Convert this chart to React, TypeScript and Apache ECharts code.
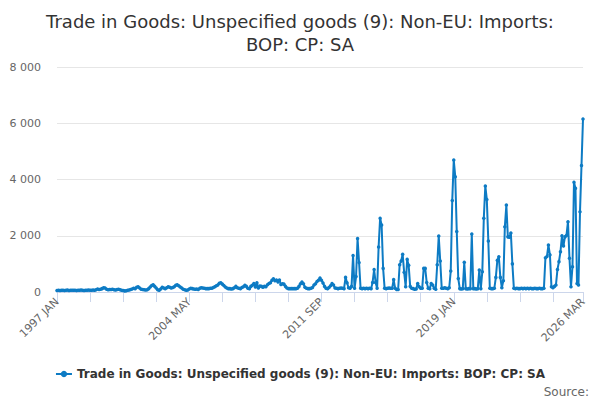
import React, { useEffect, useRef } from 'react';
import * as echarts from 'echarts';

const COLORS = {
  LINE: '#0d7bc4',
  TEXT: '#333333',
  LABEL: '#666666',
  SPLIT: '#e6e6e6',
  AXIS: '#ccd6eb',
};

const TITLE = 'Trade in Goods: Unspecified goods (9): Non-EU: Imports:\nBOP: CP: SA';
const SERIES_NAME = 'Trade in Goods: Unspecified goods (9): Non-EU: Imports: BOP: CP: SA';

const MONTHS = ['JAN', 'FEB', 'MAR', 'APR', 'MAY', 'JUN', 'JUL', 'AUG', 'SEP', 'OCT', 'NOV', 'DEC'];
const FIRST_YEAR = 1997;

// monthly values, one array per year
const y1997 = [55, 60, 50, 65, 60, 55, 60, 70, 55, 60, 65, 60];
const y1998 = [60, 55, 65, 60, 70, 60, 55, 65, 60, 70, 65, 60];
const y1999 = [70, 60, 80, 110, 90, 100, 120, 150, 140, 100, 80, 90];
const y2000 = [90, 100, 80, 70, 90, 100, 80, 60, 50, 40, 45, 60];
const y2001 = [70, 90, 110, 130, 120, 170, 190, 140, 100, 90, 80, 70];
const y2002 = [80, 120, 180, 230, 260, 200, 140, 80, 60, 110, 170, 140];
const y2003 = [120, 150, 190, 170, 140, 160, 190, 240, 260, 220, 180, 140];
const y2004 = [100, 80, 60, 70, 110, 130, 120, 110, 100, 110, 90, 130];
const y2005 = [150, 140, 130, 120, 120, 120, 130, 130, 160, 190, 220, 250];
const y2006 = [310, 330, 280, 230, 180, 140, 120, 120, 110, 120, 150, 200];
const y2007 = [150, 130, 120, 160, 190, 240, 200, 130, 120, 200, 240, 300];
const y2008 = [180, 330, 140, 210, 200, 170, 200, 190, 260, 300, 330, 415];
const y2009 = [474, 400, 430, 360, 430, 270, 290, 280, 200, 140, 120, 120];
const y2010 = [120, 120, 120, 120, 130, 200, 290, 356, 290, 170, 130, 120];
const y2011 = [120, 130, 160, 250, 290, 370, 420, 500, 420, 320, 200, 130];
const y2012 = [120, 160, 220, 300, 250, 140, 130, 120, 130, 140, 130, 120];
const y2013 = [520, 330, 150, 130, 200, 1300, 130, 550, 1900, 1050, 130, 120];
const y2014 = [130, 120, 130, 120, 130, 120, 340, 800, 340, 130, 1600, 2620];
const y2015 = [2380, 840, 130, 120, 130, 140, 130, 130, 440, 130, 90, 90];
const y2016 = [970, 1100, 1340, 700, 190, 1160, 950, 200, 130, 120, 100, 110];
const y2017 = [300, 190, 130, 130, 840, 840, 340, 130, 120, 300, 250, 130];
const y2018 = [100, 970, 1990, 1100, 130, 130, 150, 130, 120, 150, 750, 3250];
const y2019 = [4690, 4100, 2150, 480, 120, 110, 120, 1060, 120, 110, 120, 120];
const y2020 = [2060, 120, 120, 110, 120, 780, 120, 720, 2620, 3770, 3290, 1810];
const y2021 = [130, 120, 120, 130, 520, 1130, 1250, 520, 150, 400, 2320, 3090];
const y2022 = [1960, 1950, 2100, 1000, 130, 120, 130, 120, 120, 130, 120, 130];
const y2023 = [120, 130, 120, 130, 120, 120, 130, 120, 120, 130, 120, 120];
const y2024 = [130, 1220, 1260, 1670, 1320, 190, 150, 200, 250, 800, 1080, 1430];
const y2025 = [2000, 1640, 1960, 2010, 2500, 1200, 190, 900, 3900, 3690, 300, 250];
const y2026 = [2850, 4500, 6150];

const YEARS = [
  y1997, y1998, y1999, y2000, y2001, y2002, y2003, y2004, y2005, y2006,
  y2007, y2008, y2009, y2010, y2011, y2012, y2013, y2014, y2015, y2016,
  y2017, y2018, y2019, y2020, y2021, y2022, y2023, y2024, y2025, y2026,
];

const values: number[] = [];
const categories: string[] = [];
YEARS.forEach((arr, yi) => {
  arr.forEach((v, mi) => {
    values.push(v);
    categories.push(FIRST_YEAR + yi + ' ' + MONTHS[mi]);
  });
});
const LAST = values.length - 1;

const FONT = '"DejaVu Sans", sans-serif';

const formatNum = (num: number) => String(num).replace(/\B(?=(\d{3})+(?!\d))/g, ' ');

const App: React.FC = () => {
  const divEL = useRef<HTMLDivElement>(null);

  useEffect(() => {
    document.body.style.margin = '0';
    const instance = echarts.init(divEL.current as any, undefined, { renderer: 'svg' });
    const option: echarts.EChartsOption = {
      animation: false,
      textStyle: { fontFamily: FONT },
      title: {
        text: TITLE,
        left: 'center',
        top: 5,
        textStyle: {
          fontFamily: FONT,
          fontSize: 18,
          fontWeight: 'normal',
          color: COLORS.TEXT,
          lineHeight: 23,
        },
      },
      legend: {
        bottom: 15,
        left: 'center',
        itemWidth: 16,
        itemHeight: 8,
        itemGap: 0,
        textStyle: {
          fontFamily: FONT,
          fontSize: 12,
          fontWeight: 'bold',
          color: COLORS.TEXT,
        },
      },
      graphic: [
        {
          type: 'text',
          right: 11,
          bottom: 2,
          style: {
            text: 'Source:',
            font: '12px "DejaVu Sans", sans-serif',
            fill: COLORS.LABEL,
          },
        },
      ],
      grid: {
        left: 57,
        right: 17,
        top: 67,
        bottom: 108,
      },
      xAxis: {
        type: 'category',
        data: categories,
        boundaryGap: false,
        axisLine: { lineStyle: { color: COLORS.AXIS } },
        axisTick: {
          length: 10,
          lineStyle: { color: COLORS.AXIS },
          interval: (idx: number) => idx % 22 === 0 || idx === LAST,
        },
        axisLabel: {
          rotate: 45,
          color: COLORS.LABEL,
          fontSize: 11,
          fontFamily: FONT,
          margin: 8,
          interval: (idx: number) => idx % 88 === 0 || idx === LAST,
        },
        splitLine: { show: false },
      },
      yAxis: {
        type: 'value',
        min: 0,
        max: 8000,
        interval: 2000,
        axisLine: { show: false },
        axisTick: { show: false },
        axisLabel: {
          color: COLORS.LABEL,
          fontSize: 11,
          fontFamily: FONT,
          margin: 16,
          formatter: formatNum,
        },
        splitLine: { lineStyle: { color: COLORS.SPLIT } },
      },
      series: [
        {
          name: SERIES_NAME,
          type: 'line',
          data: values,
          symbol: 'circle',
          symbolSize: 3.5,
          showSymbol: true,
          showAllSymbol: true,
          color: COLORS.LINE,
          lineStyle: { width: 2, color: COLORS.LINE },
          itemStyle: { color: COLORS.LINE },
        },
      ],
    };
    instance.setOption(option);
    return () => {
      instance.dispose();
    };
  }, []);

  return <div ref={divEL} style={{ width: 600, height: 400 }}></div>;
};

export default App;
